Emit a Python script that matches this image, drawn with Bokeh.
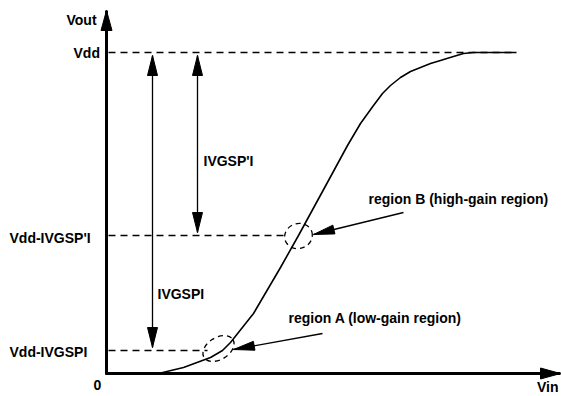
from bokeh.plotting import figure
from bokeh.models import Range1d
from bokeh.core.properties import value
from bokeh.embed import file_html
from bokeh.resources import INLINE

# ---- data (units: arbitrary, Vout=0 at the Vin axis) ----
vin = [52, 77, 104, 116, 124, 147, 174, 192, 222, 241, 254, 267, 276, 284, 294, 304, 314, 324, 334, 342, 357, 367, 410]
vout = [0, 6, 16, 23, 31, 60, 106, 138, 193, 228, 250, 268, 280, 288, 296, 302, 306, 310, 313, 315.5, 320, 321, 321]

vdd = 321
level_b = 138   # Vdd-|VGSP'|
level_a = 23    # Vdd-|VGSP|
vdd_end = 410
level_b_end = 182
level_a_end = 101

y_labels = ["Vdd", "Vdd-IVGSP'I", "Vdd-IVGSPI"]
y_label_values = [vdd, level_b, level_a]

FONT = value("Liberation Sans")
FS = "14px"

p = figure(width=561, height=396, x_range=Range1d(-106, 455), y_range=Range1d(-23, 373),
           output_backend="svg", toolbar_location=None,
           x_axis_location=None, y_axis_location=None,
           min_border=0, min_border_left=0, min_border_right=0,
           min_border_top=0, min_border_bottom=0)
p.grid.visible = False
p.outline_line_color = None
p.background_fill_color = "white"

# curve
p.line(vin, vout, line_color="black", line_width=1.6, line_join="round")

# dashed levels
p.segment(x0=[2, 2, 2], y0=[vdd, level_b, level_a],
          x1=[vdd_end, level_b_end, level_a_end], y1=[vdd, level_b, level_a],
          line_color="black", line_width=1.6, line_dash="7 5")

# dashed ellipses (regions)
p.ellipse(x=[112, 192], y=[25, 137.5], width=[34, 28], height=[22, 25], angle=[0.55, 0.3],
          fill_color=None, line_color="black", line_width=1.3, line_dash="5 4")


def arrow(x0, y0, x1, y1, lw, L, W, both=False):
    p.line([x0, x1], [y0, y1], line_color="black", line_width=lw)
    ends = [(x0, y0, x1, y1)]
    if both:
        ends.append((x1, y1, x0, y0))
    xs, ys = [], []
    for ax, ay, bx, by in ends:
        dx, dy = bx - ax, by - ay
        n = (dx * dx + dy * dy) ** 0.5
        ux, uy = dx / n, dy / n
        px, py = -uy, ux
        baseX, baseY = bx - ux * L, by - uy * L
        xs.append([bx, baseX + px * W, baseX - px * W])
        ys.append([by, baseY + py * W, baseY - py * W])
    p.patches(xs, ys, fill_color="black", line_color="black", line_width=1)


# axes
arrow(0, -1, 0, 363, 3, 20, 5.5)
arrow(-1, 0, 454, 0, 3, 20, 5.5)
# |VGSP| arrows
arrow(46, 26, 46, 318, 1.3, 20, 5, both=True)
arrow(91, 141, 91, 318, 1.3, 20, 5, both=True)
# region pointers
arrow(216, 40, 127, 24, 1.3, 21, 4.5)
arrow(297, 161, 207, 139, 1.3, 21, 4.5)

# texts
p.text(x=[-97, -33, -97], y=[136, 321, 22], text=[y_labels[1], y_labels[0], y_labels[2]],
       text_font=FONT, text_font_style="bold", text_font_size=FS,
       text_baseline="middle", text_align="left", text_color="black")
p.text(x=[-40], y=[354], text=["Vout"], text_font=FONT, text_font_style="bold",
       text_font_size=FS, text_baseline="middle", text_align="left")
p.text(x=[-9], y=[-11], text=["0"], text_font=FONT, text_font_style="bold",
       text_font_size=FS, text_baseline="middle", text_align="center")
p.text(x=[452], y=[-21], text=["Vin"], text_font=FONT, text_font_style="bold",
       text_font_size=FS, text_baseline="bottom", text_align="right")
p.text(x=[97, 51], y=[213, 80], text=["IVGSP'I", "IVGSPI"], text_font=FONT,
       text_font_style="bold", text_font_size=FS, text_baseline="middle", text_align="left")
p.text(x=[262, 182], y=[175, 56], text=["region B (high-gain region)", "region A (low-gain region)"],
       text_font=FONT, text_font_style="bold", text_font_size=FS,
       text_baseline="middle", text_align="left")

open("out.html", "w").write(file_html(p, INLINE))
